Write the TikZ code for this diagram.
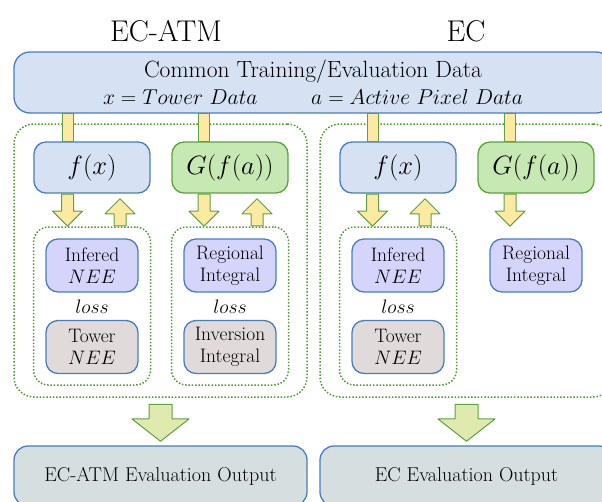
\RequirePackage{fix-cm}
\documentclass[tikz,border=0pt]{standalone}
\usetikzlibrary{arrows.meta,calc,positioning,shapes.arrows}
\definecolor{ecBlue}{HTML}{D6E2F3}
\definecolor{ecBlueLine}{HTML}{4A7EBB}
\definecolor{ecGreen}{HTML}{C6E8B2}
\definecolor{ecGreenLine}{HTML}{5FA043}
\definecolor{ecYellow}{HTML}{FCEAA2}
\definecolor{ecLilac}{HTML}{D5D5FB}
\definecolor{ecRose}{HTML}{E1DADB}
\definecolor{ecLime}{HTML}{DEEAAE}
\definecolor{ecSlate}{HTML}{D6DFE0}
\definecolor{ecDots}{HTML}{4E9A2E}

\begin{document}
\begin{tikzpicture}[x=1pt,y=-1pt,line join=round]
\useasboundingbox (0,0) rectangle (602,501);
\clip (0,0) rectangle (602,501);
\tikzset{fbox/.style={draw=ecBlueLine,fill=ecBlue,line width=1.3pt,rounded corners=12pt,minimum width=116pt,minimum height=51pt,font=\fontsize{26.5}{30}\selectfont},gbox/.style={fbox,draw=ecGreenLine,fill=ecGreen},nbox/.style={draw=ecBlueLine,line width=1.3pt,rounded corners=12pt,minimum width=92pt,minimum height=53pt,align=center,font=\fontsize{19.5}{21.5}\selectfont},dotbox/.style={draw=ecDots,line width=1.5pt,dash pattern=on 1.5pt off 1.8pt},stem/.style={draw=ecGreenLine,fill=ecYellow,line width=1pt},dnarrow/.style={single arrow,shape border rotate=270,draw=ecGreenLine,fill=ecYellow,line width=1pt,inner sep=5.5pt,single arrow head extend=9pt,minimum height=32pt},uparrow/.style={dnarrow,shape border rotate=90,minimum height=27pt},bigarrow/.style={dnarrow,fill=ecLime,inner sep=11pt,single arrow head extend=17pt,single arrow tip angle=104,minimum height=37pt},outbox/.style={draw=ecBlueLine,fill=ecSlate,line width=1.3pt,rounded corners=14pt,minimum width=293pt,minimum height=60pt,font=\fontsize{20}{24}\selectfont}}
\node[font=\fontsize{30}{34}\selectfont] (tATM) at (166,31) {EC-ATM};
\node[font=\fontsize{30}{34}\selectfont] (tEC) at (466,31) {EC};
\node[fbox,minimum width=598pt,minimum height=61pt,rounded corners=16pt,align=center,font=\fontsize{23.5}{27}\selectfont] (data) at (313,82.5) {Common Training/Evaluation Data\\\fontsize{21.5}{27}\selectfont$x = Tower\ Data$\hspace{2.5em}$a = Active\ Pixel\ Data$};
\node[dotbox,rounded corners=20pt,minimum width=293pt,minimum height=273pt] (panATM) at (160.5,260.5) {};
\node[dotbox,rounded corners=20pt,minimum width=293pt,minimum height=273pt] (panEC) at (466.5,260.5) {};
\node[fbox] (fATM) at (92,167.5) {$f(x)$};
\node[gbox] (gATM) at (230,167.5) {$G(f(a))$};
\node[fbox] (fEC) at (398,167.5) {$f(x)$};
\node[gbox] (gEC) at (536,167.5) {$G(f(a))$};
\draw[stem] ($(fATM.north)+(-30,0)$) rectangle ($(fATM.north|-data.south)+(-19,0)$);
\draw[stem] ($(gATM.north)+(-32,0)$) rectangle ($(gATM.north|-data.south)+(-21,0)$);
\draw[stem] ($(fEC.north)+(-31,0)$) rectangle ($(fEC.north|-data.south)+(-20,0)$);
\draw[stem] ($(gEC.north)+(-32,0)$) rectangle ($(gEC.north|-data.south)+(-21,0)$);
\node[dotbox,rounded corners=15pt,minimum width=117pt,minimum height=158pt] (lossATMf) at (92,306) {};
\node[dotbox,rounded corners=15pt,minimum width=117pt,minimum height=158pt] (lossATMg) at (230,306) {};
\node[dotbox,rounded corners=15pt,minimum width=117pt,minimum height=158pt] (lossECf) at (398,306) {};
\node[dnarrow,anchor=tail] (dnATMf) at ([xshift=-24.5pt]fATM.south) {};
\node[uparrow,anchor=tail] (upATMf) at ([xshift=28pt]lossATMf.north) {};
\node[dnarrow,anchor=tail] (dnATMg) at ([xshift=-26pt]gATM.south) {};
\node[uparrow,anchor=tail] (upATMg) at ([xshift=27pt]lossATMg.north) {};
\node[dnarrow,anchor=tail] (dnECf) at ([xshift=-25.5pt]fEC.south) {};
\node[uparrow,anchor=tail] (upECf) at ([xshift=27pt]lossECf.north) {};
\node[dnarrow,anchor=tail] (dnECg) at ([xshift=-26pt]gEC.south) {};
\node[nbox,fill=ecLilac] (infATM) at (92,265.5) {Infered\\$NEE$};
\node[font=\fontsize{19.5}{21}\selectfont] (lsATMf) at (92,307) {$loss$};
\node[nbox,fill=ecRose] (towATM) at (92,347) {Tower\\$NEE$};
\node[nbox,fill=ecLilac] (regATM) at (230,265.5) {Regional\\Integral};
\node[font=\fontsize{19.5}{21}\selectfont] (lsATMg) at (230,307) {$loss$};
\node[nbox,fill=ecRose] (invATM) at (230,347) {Inversion\\Integral};
\node[nbox,fill=ecLilac] (infEC) at (398,265.5) {Infered\\$NEE$};
\node[font=\fontsize{19.5}{21}\selectfont] (lsECf) at (398,307) {$loss$};
\node[nbox,fill=ecRose] (towEC) at (398,347) {Tower\\$NEE$};
\node[nbox,fill=ecLilac] (regEC) at (536,265.5) {Regional\\Integral};
\node[bigarrow,anchor=tail] (dnATM) at ([yshift=-6pt]panATM.south) {};
\node[bigarrow,anchor=tail] (dnEC) at ([yshift=-6pt]panEC.south) {};
\node[outbox] (outATM) at (160.5,476) {EC-ATM Evaluation Output};
\node[outbox] (outEC) at (466.5,476) {EC Evaluation Output};
\end{tikzpicture}
\end{document}
